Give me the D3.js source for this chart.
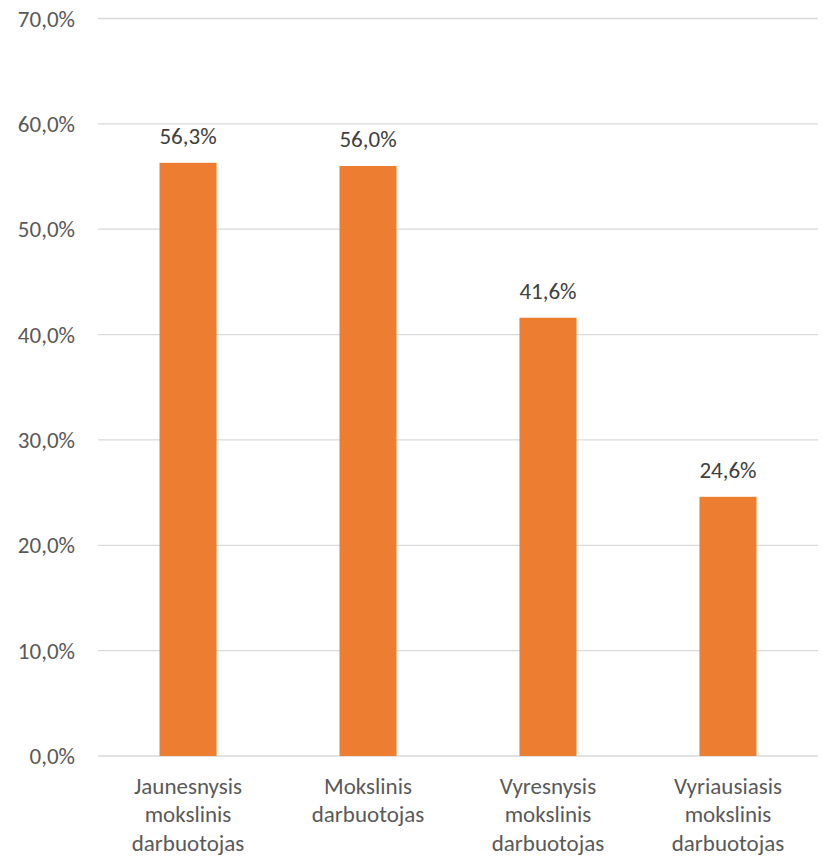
<!DOCTYPE html>
<html><head><meta charset="utf-8">
<script src="https://cdn.jsdelivr.net/npm/d3@7"></script>
<style>body{margin:0;background:#fff;} svg{display:block;font-family:Carlito, Lato, sans-serif;}</style>
</head><body>
<svg id="c" width="823" height="857"></svg>
<script>
const categories = [["Jaunesnysis","mokslinis","darbuotojas"],["Mokslinis","darbuotojas"],["Vyresnysis","mokslinis","darbuotojas"],["Vyriausiasis","mokslinis","darbuotojas"]];
const values = [56.3, 56.0, 41.6, 24.6];
const valueLabels = ["56,3%","56,0%","41,6%","24,6%"];
const ticks = [0,10,20,30,40,50,60,70];
const tickLabels = ["0,0%","10,0%","20,0%","30,0%","40,0%","50,0%","60,0%","70,0%"];

const svg = d3.select("#c");
const x = d3.scaleBand().domain(d3.range(values.length)).range([98,818]).paddingInner(0.683).paddingOuter(0.3417);
const y = d3.scaleLinear().domain([0,70]).range([756,18.5]);
const fs = 23;

const g = svg.append("g");
g.selectAll("line.grid").data(ticks).join("line")
  .attr("x1",98).attr("x2",818)
  .attr("y1",d=>y(d)).attr("y2",d=>y(d))
  .attr("stroke","#d9d9d9").attr("stroke-width",1.3);

g.selectAll("text.tick").data(ticks).join("text")
  .attr("x",75).attr("y",d=>y(d)+8)
  .attr("text-anchor","end").attr("fill","#595959").attr("font-size",fs)
  .text((d,i)=>tickLabels[i]);

g.selectAll("rect").data(values).join("rect")
  .attr("x",(d,i)=>x(i)).attr("width",x.bandwidth())
  .attr("y",d=>y(d)).attr("height",d=>y(0)-y(d))
  .attr("fill","#ED7D31");

g.selectAll("text.val").data(values).join("text")
  .attr("x",(d,i)=>x(i)+x.bandwidth()/2).attr("y",d=>y(d)-19)
  .attr("text-anchor","middle").attr("fill","#404040").attr("font-size",fs)
  .text((d,i)=>valueLabels[i]);

categories.forEach((lines,i)=>{
  const t = g.append("text").attr("text-anchor","middle").attr("fill","#595959").attr("font-size",fs);
  lines.forEach((l,j)=>{
    t.append("tspan").attr("x",x(i)+x.bandwidth()/2).attr("y",794+j*28.3).text(l);
  });
});
</script>
</body></html>
